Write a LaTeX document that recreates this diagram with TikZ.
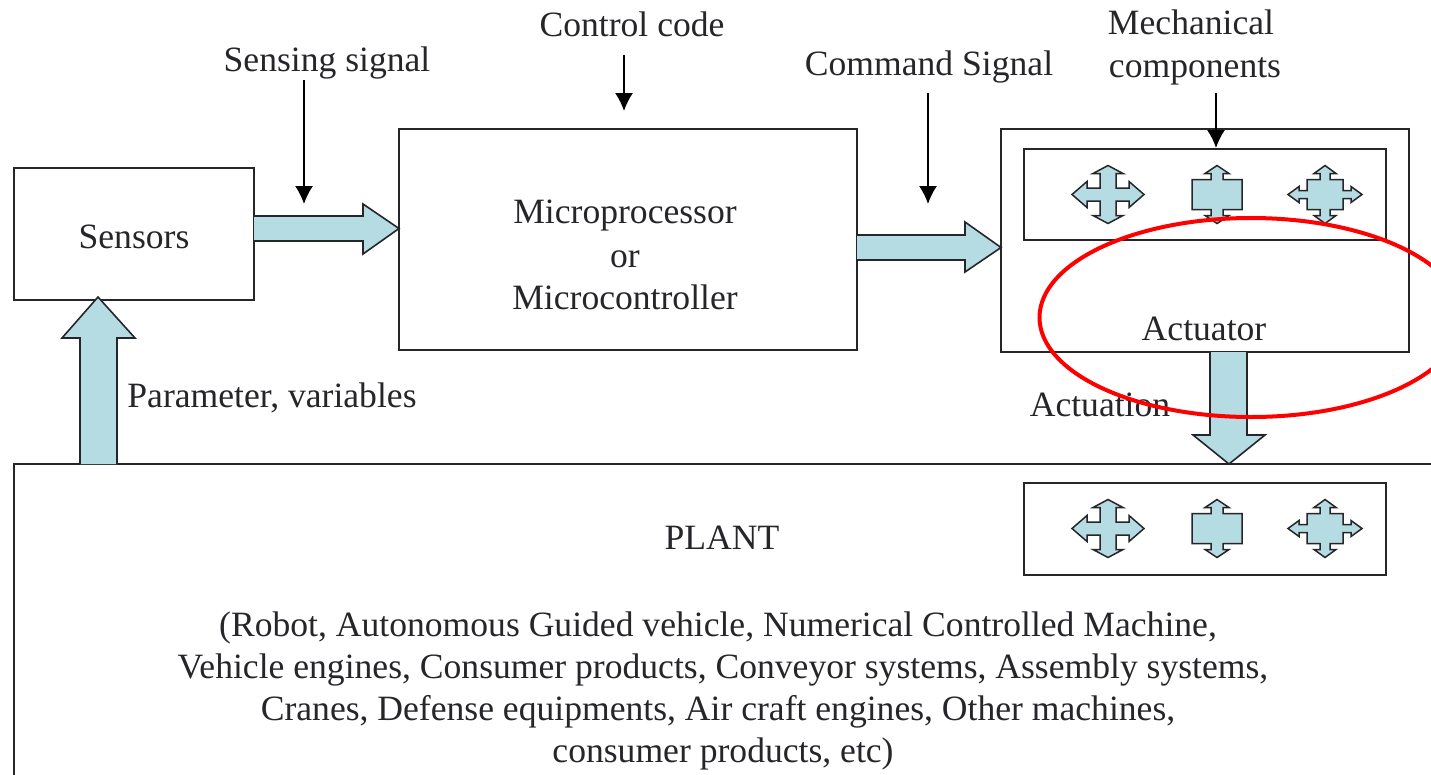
\documentclass[tikz,border=0pt]{standalone}
\usepackage{fontspec}
\setmainfont{Liberation Serif}
\usetikzlibrary{arrows.meta,calc,shapes.geometric}
\definecolor{ablue}{RGB}{181,220,226}
\definecolor{ink}{RGB}{38,38,42}
\tikzset{
  x=1pt,y=-1pt,
  boxn/.style={draw=ink,line width=1.6pt,fill=white,inner sep=0pt,outer sep=0pt},
  lab/.style={anchor=base,inner sep=0pt,text=ink,font=\fontsize{35.6}{40}\selectfont},
  thin arrow/.style={draw=black,line width=1.6pt,-{Latex[length=18pt,width=18pt]}},
  blockarrow/.style={draw=ink,line width=1.6pt,fill=ablue,line join=miter},
  iconpath/.style={draw=ink,line width=1.5pt,fill=ablue,line join=miter},
  pics/iconA/.style={code={\draw[iconpath] (-8,-6.5)--(-8,-21)--(-15,-21)--(0,-29)--(15,-21)--(8,-21)--(8,-6.5)--(21,-6.5)--(21,-13)--(36,0)--(21,13)--(21,6.5)--(8,6.5)--(8,21)--(15,21)--(0,29)--(-15,21)--(-8,21)--(-8,6.5)--(-21,6.5)--(-21,13)--(-36,0)--(-21,-13)--(-21,-6.5)--cycle;}},
  pics/iconB/.style={code={\draw[iconpath] (-25,-15)--(-6,-15)--(-6,-21)--(-12,-21)--(0,-29)--(12,-21)--(6,-21)--(6,-15)--(25,-15)--(25,15)--(6,15)--(6,21)--(12,21)--(0,29)--(-12,21)--(-6,21)--(-6,15)--(-25,15)--cycle;}},
  pics/iconC/.style={code={\draw[iconpath] (-18,-15)--(-5,-15)--(-5,-21)--(-11,-21)--(0,-29)--(11,-21)--(5,-21)--(5,-15)--(18,-15)--(18,-4)--(26,-4)--(26,-8)--(37,0)--(26,8)--(26,4)--(18,4)--(18,15)--(5,15)--(5,21)--(11,21)--(0,29)--(-11,21)--(-5,21)--(-5,15)--(-18,15)--(-18,4)--(-26,4)--(-26,8)--(-37,0)--(-26,-8)--(-26,-4)--(-18,-4)--cycle;}},
}
\newcommand{\boxat}[5]{\node[boxn,minimum width=#4pt,minimum height=#5pt] (#1) at (#2,#3) {};}
\begin{document}
\begin{tikzpicture}
\clip (0,0) rectangle (1431,774);
\fill[white] (0,0) rectangle (1431,774);
% plant
\draw[draw=ink,line width=1.6pt] (14,790) coordinate (plantbl) -- (14,464) coordinate (plantl) -- (1440,464) coordinate (plantr);
% boxes
\boxat{sensors}{134}{234}{240}{132}
\boxat{micro}{628}{239.5}{458}{221}
\boxat{actuator}{1205}{240.5}{408}{223}
\boxat{mech}{1205}{194.5}{362}{91}
\boxat{plantin}{1205}{529}{362}{92}
% block arrows
\coordinate (y1) at (0,228.5);
\coordinate (y2) at (0,247.5);
\coordinate (a1) at (sensors.east |- y1);
\coordinate (b1) at (micro.west |- y1);
\draw[blockarrow] ($(a1)+(0,-12.5)$) -- (363,216) -- (363,204) -- (b1) -- (363,254) -- (363,241) -- ($(a1)+(0,12.5)$);
\coordinate (a2) at (micro.east |- y2);
\coordinate (b2) at (actuator.west |- y2);
\draw[blockarrow] ($(a2)+(0,-12.5)$) -- (965,235) -- (965,222) -- (b2) -- (965,272) -- (965,260) -- ($(a2)+(0,12.5)$);
\coordinate (a3) at (1228.5,352);
\draw[blockarrow] ($(a3)+(-18.5,0)$) -- (1210,435) -- (1193,435) -- (1229,464) -- (1265,435) -- (1247,435) -- ($(a3)+(18.5,0)$);
\coordinate (a4) at (98.5,464);
\draw[blockarrow] ($(a4)+(-18.5,0)$) -- (80,338) -- (62,338) -- (98,297) -- (135,338) -- (117,338) -- ($(a4)+(18.5,0)$);
% icons
\pic at (1108,194.5) {iconA};
\pic at (1217,194.5) {iconB};
\pic at (1325,194.5) {iconC};
\pic at (1108,528.5) {iconA};
\pic at (1217,528.5) {iconB};
\pic at (1325,528.5) {iconC};
% labels
\node[lab] (tsense) at (327,71) {Sensing signal};
\node[lab] (tctrl) at (632,36) {Control code};
\node[lab] (tcmd) at (929,75) {Command Signal};
\node[lab] (tmech1) at (1191,34) {Mechanical};
\node[lab] (tmech2) at (1195,77) {components};
\node[lab] (tsens) at (134,248) {Sensors};
\node[lab] (tm1) at (625,223) {Microprocessor};
\node[lab] (tm2) at (625,267) {or};
\node[lab] (tm3) at (625,309) {Microcontroller};
\node[lab] (tpar) at (272,407) {Parameter, variables};
\node[lab] (tact) at (1204,340) {Actuator};
\node[lab] (tacn) at (1100,416) {Actuation};
\node[lab] (tplant) at (722,549) {PLANT};
\node[lab] (tp1) at (718,636) {(Robot, Autonomous Guided vehicle, Numerical Controlled Machine,};
\node[lab] (tp2) at (723,678) {Vehicle engines, Consumer products, Conveyor systems, Assembly systems,};
\node[lab] (tp3) at (718,720) {Cranes, Defense equipments, Air craft engines, Other machines,};
\node[lab] (tp4) at (723,762) {consumer products, etc)};
% thin arrows
\coordinate (e1) at (304,204);
\coordinate (e2) at (624,111);
\coordinate (e3) at (928,204);
\draw[thin arrow] (304,80) -- (e1);
\draw[thin arrow] (624,55) -- (e2);
\draw[thin arrow] (928,93) -- (e3);
\draw[thin arrow] (1216,93) -- (1216,148);
% red ellipse
\node[draw=red,line width=4pt,ellipse,minimum width=423pt,minimum height=199pt,inner sep=0pt] (redring) at (1251,317.5) {};
\end{tikzpicture}
\end{document}
